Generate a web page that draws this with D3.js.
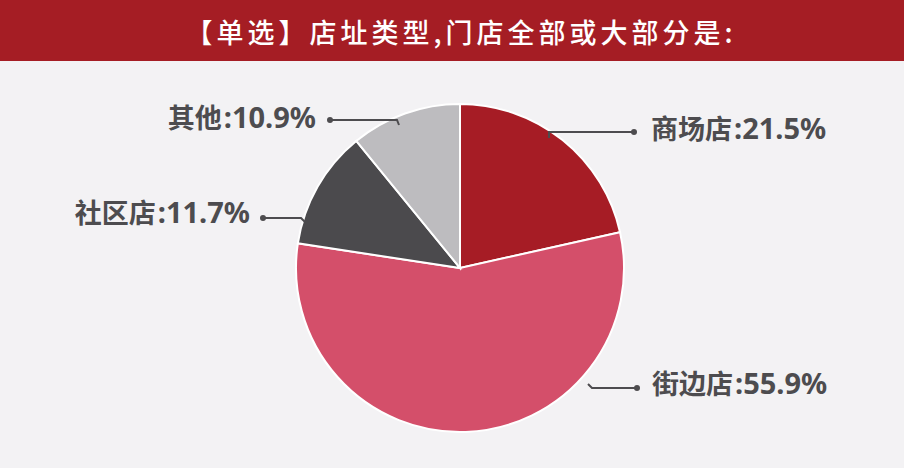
<!DOCTYPE html>
<html><head><meta charset="utf-8">
<script src="https://cdn.jsdelivr.net/npm/d3@7"></script>
<style>html,body{margin:0;padding:0;background:#f3f2f4;}svg{display:block;}</style>
</head><body>
<script>
const title = "【单选】店址类型,门店全部或大部分是:";
const categories = ["商场店", "街边店", "社区店", "其他"];
const values = [21.5, 55.9, 11.7, 10.9];
const colors = ["#a61c25", "#d44f6a", "#4b4a4d", "#bdbcbf"];

const W = 904, H = 468;
const svg = d3.select("body").append("svg").attr("width", W).attr("height", H);
svg.append("rect").attr("width", W).attr("height", H).attr("fill", "#f3f2f4");
svg.append("rect").attr("x", 0).attr("y", 0).attr("width", W).attr("height", 61).attr("fill", "#a51d24");
svg.append("text").attr("x", 461).attr("y", 33).attr("dy", "0.36em").attr("text-anchor", "middle")
  .attr("fill", "#fff").attr("font-family", "Noto Sans CJK SC").attr("font-size", 27)
  .attr("font-weight", 500).attr("letter-spacing", 4).text(title);

const cx = 460, cy = 268, r = 164;
const data = categories.map((c, i) => ({c, v: values[i], col: colors[i]}));
const pie = d3.pie().value(d => d.v).sort(null);
const arc = d3.arc().innerRadius(0).outerRadius(r);
const g = svg.append("g").attr("transform", `translate(${cx},${cy})`);
const arcs = pie(data);
g.selectAll("path").data(arcs).join("path").attr("d", arc)
  .attr("fill", d => d.data.col).attr("stroke", "#fff").attr("stroke-width", 2);

const leaders = [
  {p: [[549,138],[549,132],[634,132]], tx: 651, ty: 133, anchor: "start"},
  {p: [[588,384],[592,388],[637,388]], tx: 652, ty: 388, anchor: "start"},
  {p: [[305,222],[301,218],[263,218]], tx: 250, ty: 217, anchor: "end"},
  {p: [[399,125],[397,120],[330,120]], tx: 316, ty: 122, anchor: "end"}
];
const lineGen = d3.line();
leaders.forEach((L, i) => {
  svg.append("path").attr("d", lineGen(L.p)).attr("fill", "none")
    .attr("stroke", "#4d4c4f").attr("stroke-width", 2);
  svg.append("circle").attr("cx", L.p[2][0]).attr("cy", L.p[2][1]).attr("r", 3).attr("fill", "#4d4c4f");
  const t = svg.append("text").attr("x", L.tx).attr("y", L.ty).attr("dy", "0.36em")
    .attr("text-anchor", L.anchor).attr("fill", "#4d4c4f").attr("font-weight", 700);
  t.append("tspan").attr("font-family", "Noto Sans CJK SC").attr("font-size", 27).text(data[i].c);
  t.append("tspan").attr("font-family", "Noto Sans").attr("font-size", 29).attr("dx", 2)
    .text(`:${d3.format(".1f")(data[i].v)}%`);
});
</script>
</body></html>
